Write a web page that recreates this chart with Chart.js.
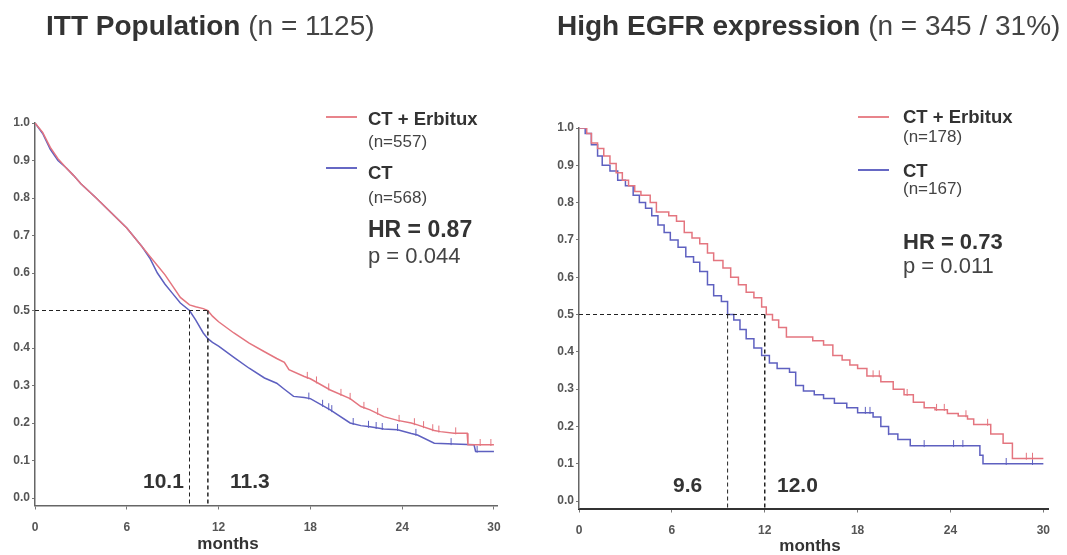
<!DOCTYPE html>
<html>
<head>
<meta charset="utf-8">
<script src="https://cdn.jsdelivr.net/npm/chart.js@4/dist/chart.umd.min.js"></script>
<style>
  body { margin: 0; background: #fff; }
  #page { position: relative; width: 1067px; height: 555px; overflow: hidden;
          font-family: "Liberation Sans", Arial, Helvetica, sans-serif; color: #333; }
  canvas { position: absolute; top: 0; }
  .t { position: absolute; white-space: nowrap; line-height: 1; }
  .b { font-weight: bold; }
  .n { font-weight: normal; color: #444; }
  .sw { position: absolute; height: 2px; width: 31px; }
</style>
</head>
<body>
<div id="page">
  <canvas id="ittChart" width="520" height="555" style="left:0"></canvas>
  <canvas id="egfrChart" width="537" height="555" style="left:530px"></canvas>

  <div class="t b" style="left:46px;top:12px;font-size:28px">ITT Population <span class="n">(n = 1125)</span></div>
  <div class="t b" style="left:557px;top:12px;font-size:28px">High EGFR expression <span class="n">(n = 345 / 31%)</span></div>

  <!-- left legend -->
  <div class="sw" style="left:326px;top:116px;background:#e8848b"></div>
  <div class="t b" style="left:368px;top:110px;font-size:18.5px">CT + Erbitux</div>
  <div class="t n" style="left:368px;top:133px;font-size:17px">(n=557)</div>
  <div class="sw" style="left:326px;top:167px;background:#6668c4"></div>
  <div class="t b" style="left:368px;top:164px;font-size:18.5px">CT</div>
  <div class="t n" style="left:368px;top:189px;font-size:17px">(n=568)</div>
  <div class="t b" style="left:368px;top:218px;font-size:23px">HR = 0.87</div>
  <div class="t n" style="left:368px;top:245px;font-size:22px">p = 0.044</div>

  <!-- right legend -->
  <div class="sw" style="left:858px;top:116px;background:#e8848b"></div>
  <div class="t b" style="left:903px;top:108px;font-size:18.5px">CT + Erbitux</div>
  <div class="t n" style="left:903px;top:128px;font-size:17px">(n=178)</div>
  <div class="sw" style="left:858px;top:169px;background:#6668c4"></div>
  <div class="t b" style="left:903px;top:162px;font-size:18.5px">CT</div>
  <div class="t n" style="left:903px;top:180px;font-size:17px">(n=167)</div>
  <div class="t b" style="left:903px;top:231px;font-size:22px">HR = 0.73</div>
  <div class="t n" style="left:903px;top:255px;font-size:22px">p = 0.011</div>

  <!-- median labels -->
  <div class="t b" style="left:143px;top:470px;font-size:21px">10.1</div>
  <div class="t b" style="left:230px;top:470px;font-size:21px">11.3</div>
  <div class="t b" style="left:673px;top:474px;font-size:21px">9.6</div>
  <div class="t b" style="left:777px;top:474px;font-size:21px">12.0</div>

  <!-- axis titles -->
  <div class="t b" style="left:178px;width:100px;text-align:center;top:535px;font-size:17px">months</div>
  <div class="t b" style="left:760px;width:100px;text-align:center;top:537px;font-size:17px">months</div>
</div>

<script>
// axis ticks
const monthTicks = [0, 6, 12, 18, 24, 30];
const survTicks = [0.0, 0.1, 0.2, 0.3, 0.4, 0.5, 0.6, 0.7, 0.8, 0.9, 1.0];
const medianLevel = 0.5;

// ITT population (n = 1125)
const ittErbTime = [0, 0.5, 1, 1.5, 2, 2.5, 3, 4, 5, 6, 7, 7.5, 8, 8.5, 9, 9.5, 10.1, 10.5, 11, 11.3, 11.6,
  12, 13, 14, 15, 15.8, 16.3, 16.6, 17.6, 18, 19.3, 20.6, 21.3, 21.9, 22.8, 23.7, 24.6, 25, 26.1, 26.5, 27.4, 28.25, 28.3, 30];
const ittErbSurv = [1, 0.975, 0.935, 0.905, 0.882, 0.861, 0.838, 0.8, 0.76, 0.72, 0.67, 0.645, 0.62, 0.595, 0.565, 0.535, 0.515, 0.51, 0.505, 0.5, 0.485,
  0.47, 0.44, 0.413, 0.39, 0.372, 0.362, 0.342, 0.324, 0.318, 0.288, 0.265, 0.244, 0.235, 0.217, 0.207, 0.2, 0.195, 0.18, 0.177, 0.173, 0.173, 0.142, 0.142];
const ittCtTime = [0, 0.5, 1, 1.5, 2, 2.5, 3, 4, 5, 6, 7, 7.5, 8, 8.5, 9, 9.5, 10.1, 10.5, 11, 11.3, 11.6,
  12, 13, 14, 15, 15.8, 16.3, 16.9, 17.6, 18, 19.3, 20.6, 21.3, 21.9, 22.8, 23.7, 24.6, 25, 26.1, 28.7, 28.8, 30];
const ittCtSurv = [1, 0.972, 0.93, 0.9, 0.882, 0.861, 0.838, 0.8, 0.76, 0.72, 0.67, 0.64, 0.6, 0.57, 0.545, 0.52, 0.5, 0.475, 0.44, 0.425, 0.415,
  0.405, 0.375, 0.346, 0.32, 0.306, 0.29, 0.271, 0.268, 0.265, 0.235, 0.2, 0.193, 0.19, 0.184, 0.182, 0.172, 0.168, 0.146, 0.142, 0.124, 0.124];
const ittErbCensor = [17.8, 18.4, 19.2, 20.0, 20.6, 21.5, 22.4, 23.8, 24.8, 25.4, 26.0, 26.4, 27.5, 29.1, 29.8];
const ittCtCensor = [17.9, 18.8, 19.2, 19.4, 20.8, 21.8, 22.3, 22.7, 23.7, 24.9, 27.2, 28.9];
const ittMedians = [10.1, 11.3];

// High EGFR expression (n = 345)
const egfrErbTime = [0, 0.5, 0.8, 1.2, 1.6, 2.0, 2.4, 2.8, 3.2, 3.6, 4.0, 4.6, 5.0, 5.8, 6.3, 6.8, 7.3, 7.8, 8.3, 8.7,
  9.3, 9.8, 10.3, 10.8, 11.3, 11.8, 12.1, 12.5, 12.9, 13.4, 15.1, 15.8, 16.4, 17.0, 17.5, 18.0, 18.6, 19.5, 20.3, 21.0,
  21.6, 22.3, 23.0, 23.8, 24.5, 25.1, 25.5, 26.6, 27.4, 28.0, 30];
const egfrErbSurv = [1, 0.985, 0.96, 0.945, 0.925, 0.905, 0.88, 0.86, 0.845, 0.83, 0.82, 0.8, 0.775, 0.765, 0.75, 0.72, 0.705, 0.69, 0.665, 0.645,
  0.625, 0.6, 0.58, 0.56, 0.545, 0.52, 0.5, 0.485, 0.465, 0.44, 0.43, 0.418, 0.39, 0.378, 0.365, 0.355, 0.335, 0.32, 0.3, 0.285,
  0.265, 0.25, 0.245, 0.235, 0.228, 0.22, 0.205, 0.18, 0.155, 0.114, 0.114];
const egfrCtTime = [0, 0.4, 0.8, 1.2, 1.5, 2.0, 2.5, 3.0, 3.5, 3.9, 4.3, 4.7, 5.1, 5.5, 5.9, 6.4, 6.9, 7.4, 7.8, 8.3,
  8.7, 9.2, 9.6, 10.0, 10.4, 10.8, 11.3, 11.8, 12.3, 12.8, 13.6, 14.0, 14.5, 15.2, 15.8, 16.5, 17.3, 18.0, 19.0, 19.5,
  20.0, 20.6, 21.4, 25.9, 26.1, 30];
const egfrCtSurv = [1, 0.985, 0.955, 0.925, 0.9, 0.885, 0.86, 0.845, 0.82, 0.8, 0.785, 0.765, 0.74, 0.72, 0.7, 0.68, 0.655, 0.64, 0.615, 0.58,
  0.55, 0.535, 0.5, 0.485, 0.46, 0.435, 0.41, 0.39, 0.37, 0.355, 0.345, 0.31, 0.295, 0.285, 0.275, 0.262, 0.25, 0.237, 0.225, 0.2,
  0.18, 0.165, 0.148, 0.123, 0.1, 0.1];
const egfrErbCensor = [19.0, 19.4, 21.2, 23.1, 23.6, 25.0, 26.4, 28.9, 29.3];
const egfrCtCensor = [18.5, 18.8, 20.0, 22.3, 24.2, 24.8, 27.6, 29.3];
const egfrMedians = [9.6, 12.0];

const RED = '#e4757f';
const BLUE = '#5e60c0';
const Y_MIN = -0.02;

function toPoints(times, surv) {
  return times.map((t, i) => ({ x: t, y: surv[i] }));
}

// survival at time t (step or straight segments)
function survAt(times, surv, t, stepped) {
  let i = 0;
  while (i < times.length - 1 && times[i + 1] <= t) i++;
  if (stepped || i === times.length - 1) return surv[i];
  const f = (t - times[i]) / (times[i + 1] - times[i]);
  return surv[i] + f * (surv[i + 1] - surv[i]);
}

function curve(times, surv, color, stepped) {
  return { data: toPoints(times, surv), showLine: true, borderColor: color, borderWidth: 1.5,
           pointRadius: 0, stepped: stepped ? 'before' : false, tension: 0, order: 1 };
}

function censor(marks, times, surv, color, stepped) {
  return { data: marks.map(t => ({ x: t, y: survAt(times, surv, t, stepped) + 0.006 })), showLine: false,
           pointStyle: 'line', rotation: 90, pointRadius: 3.5, borderWidth: 1, borderColor: color,
           backgroundColor: color, order: 2 };
}

function medianLines(meds) {
  const dash = { showLine: true, borderColor: '#222', pointRadius: 0, borderDash: [4, 3], order: 0 };
  return [
    Object.assign({ data: [{ x: 0, y: medianLevel }, { x: meds[1], y: medianLevel }], borderWidth: 1.2 }, dash),
    Object.assign({ data: [{ x: meds[0], y: medianLevel }, { x: meds[0], y: Y_MIN }], borderWidth: 1 }, dash),
    Object.assign({ data: [{ x: meds[1], y: medianLevel }, { x: meds[1], y: Y_MIN }], borderWidth: 1.5 }, dash)
  ];
}

function makeChart(id, o) {
  const tickFont = { family: '"Liberation Sans", Arial, sans-serif', size: 12, weight: 'bold' };
  return new Chart(document.getElementById(id), {
    type: 'scatter',
    data: {
      datasets: [
        ...medianLines(o.medians),
        curve(o.erbTime, o.erbSurv, RED, o.stepped),
        curve(o.ctTime, o.ctSurv, BLUE, o.stepped),
        censor(o.erbCensor, o.erbTime, o.erbSurv, RED, o.stepped),
        censor(o.ctCensor, o.ctTime, o.ctSurv, BLUE, o.stepped)
      ]
    },
    options: {
      responsive: false,
      animation: false,
      layout: { padding: { top: o.top, right: o.right, bottom: 0, left: 0 } },
      plugins: { legend: { display: false }, tooltip: { enabled: false } },
      scales: {
        x: {
          type: 'linear', min: 0, max: o.xMax,
          afterBuildTicks: s => { s.ticks = monthTicks.map(v => ({ value: v })); },
          afterFit: s => { s.height = o.xHeight; },
          ticks: { color: '#555', font: tickFont, padding: 11, maxRotation: 0 },
          grid: { drawOnChartArea: false, tickLength: 4, color: '#777' },
          border: { color: o.xAxisColor, width: o.xAxisWidth }
        },
        y: {
          min: Y_MIN, max: 1.0,
          afterBuildTicks: s => { s.ticks = survTicks.map(v => ({ value: v })); },
          afterFit: s => { s.width = o.yWidth; },
          ticks: { color: '#555', font: tickFont, padding: 2, callback: v => v.toFixed(1) },
          grid: { drawOnChartArea: false, tickLength: 3, color: '#777' },
          border: { color: '#666', width: 1.5 }
        }
      }
    }
  });
}

makeChart('ittChart', {
  erbTime: ittErbTime, erbSurv: ittErbSurv, ctTime: ittCtTime, ctSurv: ittCtSurv,
  erbCensor: ittErbCensor, ctCensor: ittCtCensor, medians: ittMedians, stepped: false,
  top: 123, right: 23, xMax: 30.2, xHeight: 49.5, yWidth: 35, xAxisColor: '#666', xAxisWidth: 1.5
});

makeChart('egfrChart', {
  erbTime: egfrErbTime, erbSurv: egfrErbSurv, ctTime: egfrCtTime, ctSurv: egfrCtSurv,
  erbCensor: egfrErbCensor, ctCensor: egfrCtCensor, medians: egfrMedians, stepped: true,
  top: 128, right: 19, xMax: 30.3, xHeight: 46.5, yWidth: 49, xAxisColor: '#333', xAxisWidth: 2
});
</script>
</body>
</html>
